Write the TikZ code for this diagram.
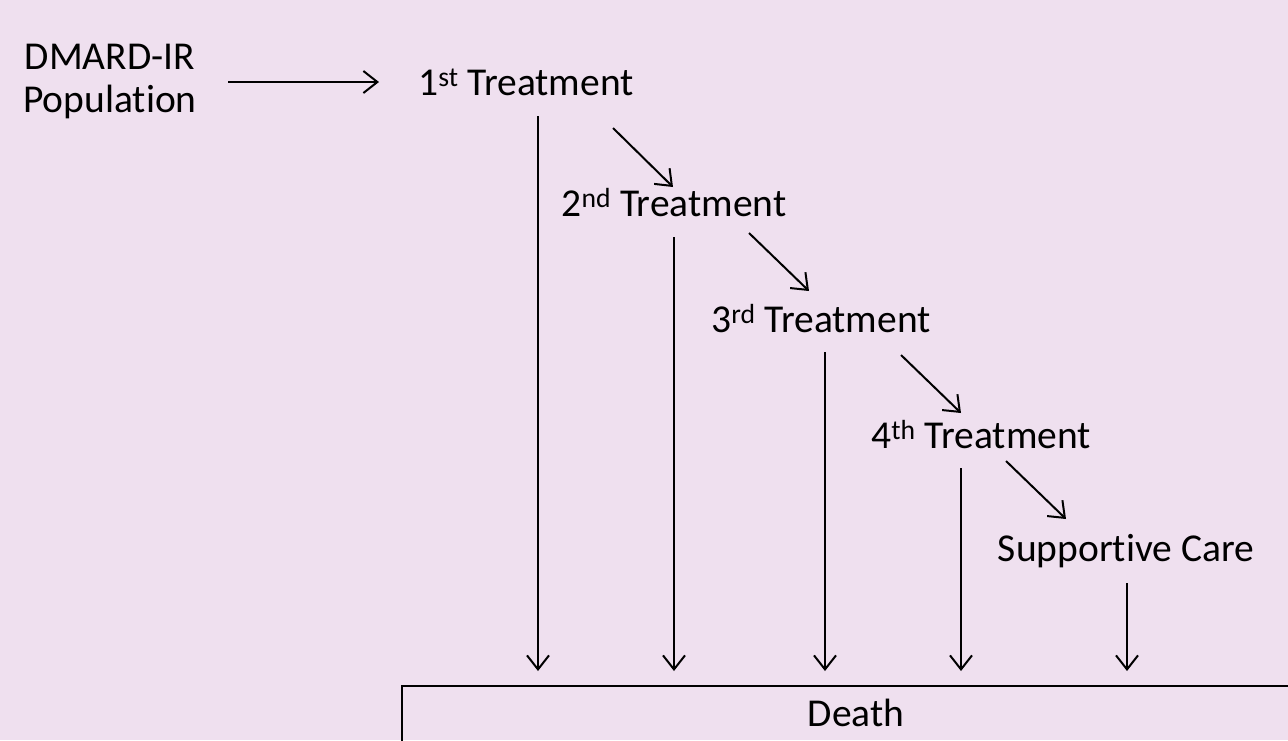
\documentclass[tikz,border=0pt]{standalone}
\usepackage{fontspec}
\setmainfont{Carlito}[Ligatures=CommonOff]
\usetikzlibrary{arrows.meta}
\definecolor{bg}{HTML}{EFE0EF}
\begin{document}
\begin{tikzpicture}[x=1pt,y=-1pt,
  lbl/.style={inner sep=0pt,font=\fontsize{39.5}{43}\selectfont},
  arr/.style={line width=2pt,-{Straight Barb[length=14pt,width=22pt,line width=2pt]}}]
\fill[bg] (0,0) rectangle (1288,740);
\useasboundingbox (0,0) rectangle (1288,740);
\node[lbl,align=center] (pop) at (110,82) {DMARD-IR\\Population};
\node[lbl] (t1) at (526,82) {1\textsuperscript{st} Treatment};
\node[lbl] (t2) at (674,203) {2\textsuperscript{nd} Treatment};
\node[lbl] (t3) at (821,319) {3\textsuperscript{rd} Treatment};
\node[lbl] (t4) at (981,435) {4\textsuperscript{th} Treatment};
\node[lbl] (sc) at (1126,551) {Supportive Care};
\draw[line width=1.5pt] (1292,686) -- (402,686) -- (402,744);
\node[lbl] (death) at (856,713) {Death};
% coordinates
\coordinate (p0) at (228,82); \coordinate (p1) at (379,82);
\coordinate (v1) at (538,116); \coordinate (d1) at (538,671);
\coordinate (v2) at (674,237); \coordinate (d2) at (674,671);
\coordinate (v3) at (825,352); \coordinate (d3) at (825,671);
\coordinate (v4) at (961,468); \coordinate (d4) at (961,671);
\coordinate (v5) at (1127,583); \coordinate (d5) at (1127,671);
\coordinate (a1) at (613,128); \coordinate (b1) at (673,187);
\coordinate (a2) at (749,233); \coordinate (b2) at (809,291);
\coordinate (a3) at (901,355); \coordinate (b3) at (961,413);
\coordinate (a4) at (1006,461); \coordinate (b4) at (1066,519);
\draw[arr] (p0) -- (p1);
\draw[arr] (v1) -- (d1);
\draw[arr] (v2) -- (d2);
\draw[arr] (v3) -- (d3);
\draw[arr] (v4) -- (d4);
\draw[arr] (v5) -- (d5);
\draw[arr] (a1) -- (b1);
\draw[arr] (a2) -- (b2);
\draw[arr] (a3) -- (b3);
\draw[arr] (a4) -- (b4);
\end{tikzpicture}
\end{document}
